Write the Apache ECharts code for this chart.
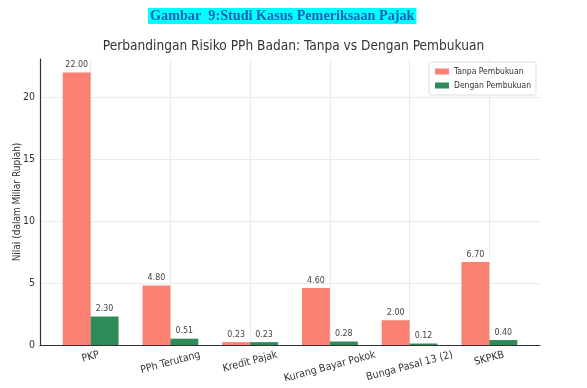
<!DOCTYPE html>
<html><head><meta charset="utf-8">
<script src="https://cdn.jsdelivr.net/npm/echarts@6/dist/echarts.min.js"></script>
<style>html,body{margin:0;padding:0;background:#fff}#c{width:587px;height:388px}</style>
</head><body><div id="c"></div>
<script>
const caption = 'Gambar  9:Studi Kasus Pemeriksaan Pajak';
const chartTitle = 'Perbandingan Risiko PPh Badan: Tanpa vs Dengan Pembukuan';
const yAxisName = 'Nilai (dalam Miliar Rupiah)';
const categories = ['PKP', 'PPh Terutang', 'Kredit Pajak', 'Kurang Bayar Pokok', 'Bunga Pasal 13 (2)', 'SKPKB'];
const seriesNames = ['Tanpa Pembukuan', 'Dengan Pembukuan'];
const tanpa = [22.00, 4.80, 0.23, 4.60, 2.00, 6.70];
const dengan = [2.30, 0.51, 0.23, 0.28, 0.12, 0.40];
const yTicks = [0, 5, 10, 15, 20];

const FONT = "'Liberation Sans Narrow', 'DejaVu Sans Condensed', sans-serif";
const CAT_SIZE = 10.5;
const ROT = 15;

// per-label offset so rotated labels hang below the axis like matplotlib's rotated bbox
const ctx = document.createElement('canvas').getContext('2d');
ctx.font = CAT_SIZE + 'px ' + FONT;
const th = ROT * Math.PI / 180;
const rich = {};
categories.forEach((c, i) => {
  const w = ctx.measureText(c).width;
  const D = (CAT_SIZE * Math.cos(th) + w * Math.sin(th)) / 2 + 0.5;
  const d = D * Math.cos(th), e = D * Math.sin(th);
  rich['c' + i] = {fontSize: CAT_SIZE, fontFamily: FONT, color: '#333', padding: [2 * d, 2 * e, 0, 0]};
});

const chart = echarts.init(document.getElementById('c'), null, {renderer: 'canvas'});
chart.setOption({
  animation: false,
  backgroundColor: '#fff',
  title: [
    {text: caption, left: 148, top: 8, padding: [1, 2, 1, 2], backgroundColor: '#00ffff',
     textStyle: {fontFamily: "'Liberation Serif', 'Times New Roman', serif", fontWeight: 'bold', fontSize: 14.2, color: '#1f5fb8'}},
    {text: chartTitle, left: 'center', top: 39, padding: 0,
     textStyle: {fontFamily: FONT, fontWeight: 'normal', fontSize: 13.6, color: '#333'}}
  ],
  legend: {
    data: seriesNames, orient: 'vertical', right: 51, top: 62,
    itemWidth: 14, itemHeight: 6, itemGap: 5, icon: 'rect',
    padding: [5, 5, 5, 6], borderColor: '#dddddd', borderWidth: 1, borderRadius: 2, backgroundColor: '#fff',
    textStyle: {fontFamily: FONT, fontSize: 8.5, color: '#333'}
  },
  grid: {left: 40, right: 47, top: 59, bottom: 43, containLabel: false, outerBoundsMode: 'none'},
  xAxis: {
    type: 'value', min: -0.635, max: 5.635, minInterval: 1, maxInterval: 1,
    axisLine: {show: true, onZero: false, lineStyle: {color: '#333', width: 1.2}},
    axisTick: {show: false},
    splitLine: {show: true, showMinLine: false, showMaxLine: false, lineStyle: {color: '#ebebeb', width: 1}},
    axisLabel: {
      rotate: ROT, align: 'center', verticalAlign: 'middle', margin: 4,
      formatter: v => {
        const i = Math.round(v);
        if (Math.abs(v - i) > 1e-6 || i < 0 || i >= categories.length) return '';
        return '{c' + i + '|' + categories[i] + '}';
      },
      rich: rich
    }
  },
  yAxis: {
    type: 'value', min: 0, max: 23.1, interval: 5,
    name: yAxisName, nameLocation: 'middle', nameGap: 18, nameMoveOverlap: false,
    nameTextStyle: {fontFamily: FONT, fontSize: 10, color: '#333'},
    axisLine: {show: true, onZero: false, lineStyle: {color: '#333', width: 1.2}},
    axisTick: {show: false},
    axisLabel: {margin: 5, fontFamily: FONT, fontSize: 10.5, color: '#333',
      formatter: v => yTicks.includes(v) ? String(v) : ''},
    splitLine: {show: true, showMinLine: false, showMaxLine: false, lineStyle: {color: '#ebebeb', width: 1}}
  },
  series: [
    {name: seriesNames[0], type: 'bar', data: tanpa.map((v, i) => [i, v]), barWidth: '35%', barGap: '0%',
     itemStyle: {color: '#fa8072'},
     label: {show: true, position: 'top', distance: 3, fontFamily: FONT, fontSize: 8.8, color: '#444',
       formatter: p => p.value[1].toFixed(2)}},
    {name: seriesNames[1], type: 'bar', data: dengan.map((v, i) => [i, v]), barWidth: '35%', barGap: '0%',
     itemStyle: {color: '#2e8b57'},
     label: {show: true, position: 'top', distance: 3, fontFamily: FONT, fontSize: 8.8, color: '#444',
       formatter: p => p.value[1].toFixed(2)}}
  ]
});
</script></body></html>
